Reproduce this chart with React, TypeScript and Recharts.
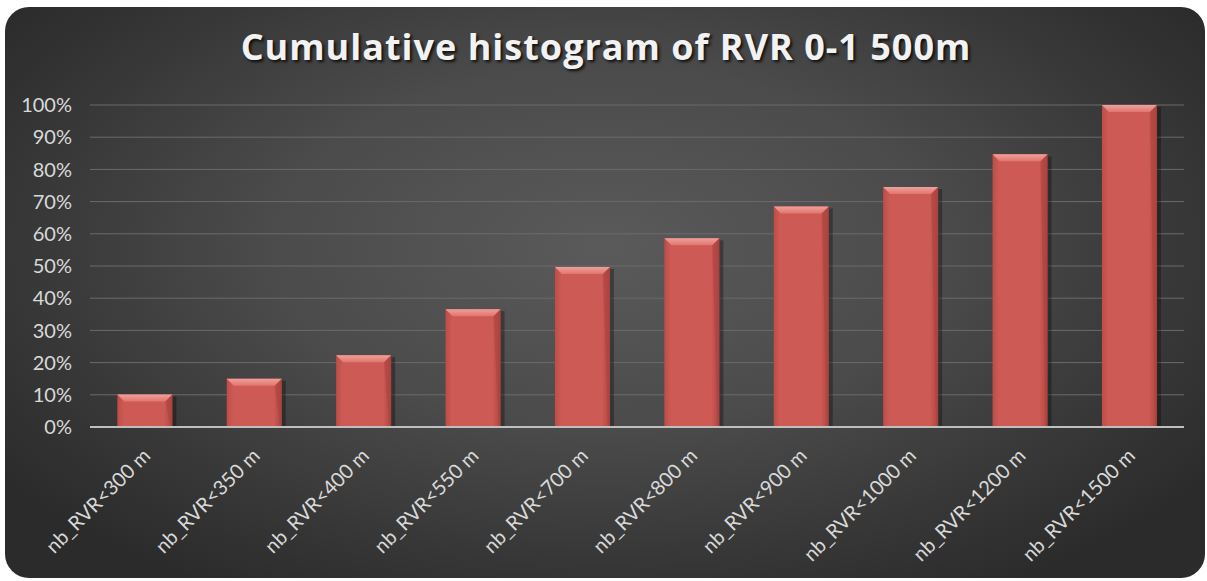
import React from 'react';
import { BarChart, Bar, XAxis, YAxis, CartesianGrid } from 'recharts';

const categories = [
  'nb_RVR<300 m',
  'nb_RVR<350 m',
  'nb_RVR<400 m',
  'nb_RVR<550 m',
  'nb_RVR<700 m',
  'nb_RVR<800 m',
  'nb_RVR<900 m',
  'nb_RVR<1000 m',
  'nb_RVR<1200 m',
  'nb_RVR<1500 m',
];
const cumulativeShare = [0.101, 0.15, 0.223, 0.366, 0.497, 0.586, 0.685, 0.745, 0.847, 1.0];
const yTicks = [0, 0.1, 0.2, 0.3, 0.4, 0.5, 0.6, 0.7, 0.8, 0.9, 1.0];
const title = 'Cumulative histogram of RVR 0-1 500m';

const data = categories.map((c, i) => ({ name: c, value: cumulativeShare[i] }));

const FONT = 'Lato, "Open Sans", sans-serif';
const TITLE_FONT = '"Open Sans", Lato, sans-serif';

const BevelBar = (props: any) => {
  const { x, y, width, height } = props;
  if (height <= 0) return null;
  const b = Math.min(7, height / 2);
  return (
    <g>
      <rect x={x + 2} y={y + 2} width={width + 2} height={height - 2} fill="#000" opacity={0.3} />
      <rect x={x} y={y} width={width} height={height} fill="url(#barFace)" />
      <polygon
        points={`${x},${y} ${x + width},${y} ${x + width - b},${y + b} ${x + b},${y + b}`}
        fill="url(#barTop)"
      />
      <polygon
        points={`${x + width},${y} ${x + width},${y + height} ${x + width - 2},${y + height} ${x + width - b},${y + b}`}
        fill="#a8403c"
        opacity={0.5}
      />
    </g>
  );
};

const XTick = (props: any) => {
  const { x, y, payload } = props;
  return (
    <g transform={`translate(${x + 7},${y + 22}) rotate(-45)`}>
      <text
        x={0}
        y={0}
        textAnchor="end"
        fill="#d9d9d9"
        fontSize={20}
        fontFamily={FONT}
      >
        {payload.value}
      </text>
    </g>
  );
};

export default function App() {
  return (
    <div style={{ position: 'absolute', left: 0, top: 0, width: 1207, height: 581, background: '#ffffff' }}>
      <div
        style={{
          position: 'absolute',
          left: 5,
          top: 7,
          width: 1200,
          height: 571,
          borderRadius: 24,
          overflow: 'hidden',
          background:
            'radial-gradient(ellipse 62% 70% at 50% 42%, #5a5a5a 0%, #4b4b4b 45%, #363636 80%, #2b2b2b 100%)',
        }}
      >
        <div
          style={{
            position: 'absolute',
            left: 0,
            top: 15,
            width: 1202,
            textAlign: 'center',
            fontFamily: TITLE_FONT,
            fontWeight: 700,
            fontSize: 36,
            color: '#f2f2f2',
            letterSpacing: 1,
            textShadow: '2px 2px 3px rgba(0,0,0,0.8)',
          }}
        >
          {title}
        </div>
        <BarChart
          width={1200}
          height={571}
          data={data}
          margin={{ top: 98, right: 21, left: 15, bottom: 11 }}
          barCategoryGap="25%"
          style={{ position: 'absolute', left: 0, top: 0 }}
        >
          <defs>
            <linearGradient id="barFace" x1="0" y1="0" x2="1" y2="0">
              <stop offset="0%" stopColor="#bd4d49" />
              <stop offset="12%" stopColor="#cd5a55" />
              <stop offset="85%" stopColor="#cd5a55" />
              <stop offset="100%" stopColor="#b04541" />
            </linearGradient>
            <linearGradient id="barTop" x1="0" y1="0" x2="0" y2="1">
              <stop offset="0%" stopColor="#f0a09b" />
              <stop offset="100%" stopColor="#e0756f" />
            </linearGradient>
          </defs>
          <CartesianGrid vertical={false} stroke="#6b6b6b" strokeWidth={1} />
          <XAxis
            dataKey="name"
            interval={0}
            height={140}
            tick={<XTick />}
            tickLine={false}
            axisLine={{ stroke: '#bfbfbf', strokeWidth: 2 }}
          />
          <YAxis
            width={70}
            domain={[0, 1]}
            ticks={yTicks}
            interval={0}
            tickFormatter={(v: number) => `${Math.round(v * 100)}%`}
            tick={{ fill: '#d9d9d9', fontSize: 20, fontFamily: FONT }}
            tickLine={false}
            axisLine={false}
            tickSize={0}
            tickMargin={18}
          />
          <Bar dataKey="value" isAnimationActive={false} shape={<BevelBar />} />
        </BarChart>
      </div>
    </div>
  );
}
